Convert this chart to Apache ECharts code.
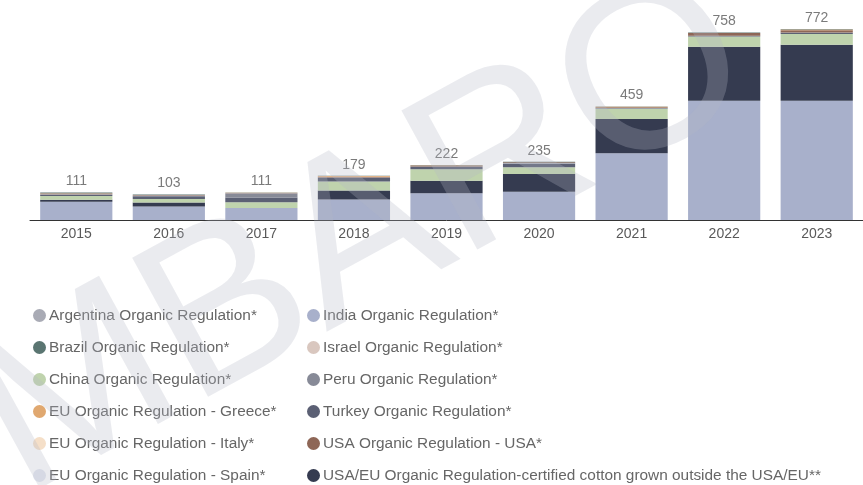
<!DOCTYPE html>
<html>
<head>
<meta charset="utf-8">
<script src="https://cdn.jsdelivr.net/npm/echarts@6/dist/echarts.min.js"></script>
<style>
  html, body { margin: 0; padding: 0; background: #fff; }
  #chart { width: 863px; height: 485px; }
</style>
</head>
<body>
<div id="chart"></div>
<script>
const years = ['2015', '2016', '2017', '2018', '2019', '2020', '2021', '2022', '2023']
const totals = [111, 103, 111, 179, 222, 235, 459, 758, 772]

// stacked bottom to top
const india = [74, 55, 48, 83, 108, 114, 270, 482, 482]
const usaEu = [8, 16, 0, 36, 51, 72, 138, 218, 226]
const china = [15, 14, 24, 37, 46, 27, 42, 41, 44]
const turkey = [4, 11, 19, 14, 9, 14, 2, 3, 4]
const peru = [2, 2, 16, 2, 2, 2, 1, 0, 2]
const argentina = [1, 1, 1, 0, 0, 1, 0, 0, 0]
const israel = [0, 0, 0, 0, 0, 0, 0, 0, 0]
const spain = [0, 0, 0, 0, 0, 0, 0, 0, 0]
const italy = [0, 0, 0, 0, 0, 0, 0, 0, 0]
const usa = [3, 2, 1, 3, 4, 3, 3, 12, 9]
const greece = [1, 0, 1, 3, 1, 0, 2, 0, 3]
const brazil = [3, 2, 1, 1, 1, 2, 1, 2, 2]

const leftNames = [
  'Argentina Organic Regulation*',
  'Brazil Organic Regulation*',
  'China Organic Regulation*',
  'EU Organic Regulation - Greece*',
  'EU Organic Regulation - Italy*',
  'EU Organic Regulation - Spain*'
]
const rightNames = [
  'India Organic Regulation*',
  'Israel Organic Regulation*',
  'Peru Organic Regulation*',
  'Turkey Organic Regulation*',
  'USA Organic Regulation - USA*',
  'USA/EU Organic Regulation-certified cotton grown outside the USA/EU**'
]

const stackSeries = [
  { name: rightNames[0], data: india, color: '#a8b0cb' },
  { name: rightNames[5], data: usaEu, color: '#353b50' },
  { name: leftNames[2], data: china, color: '#bfd3ad' },
  { name: rightNames[3], data: turkey, color: '#5b6074' },
  { name: rightNames[2], data: peru, color: '#878a97' },
  { name: leftNames[0], data: argentina, color: '#a9abb5' },
  { name: rightNames[1], data: israel, color: '#d9c7bf' },
  { name: leftNames[5], data: spain, color: '#e3e6f0' },
  { name: leftNames[4], data: italy, color: '#f5dfc8' },
  { name: rightNames[4], data: usa, color: '#8e6656' },
  { name: leftNames[3], data: greece, color: '#e0a870' },
  { name: leftNames[1], data: brazil, color: '#5a7571' }
]

const chart = echarts.init(document.getElementById('chart'))

const font = 'Liberation Sans, Arial, sans-serif'
const legendText = { color: '#666', fontSize: 15.4, fontFamily: font, padding: [0, 0, 0, -2] }
const legendBase = {
  orient: 'vertical', top: 308, height: 400, padding: 0,
  icon: 'circle', itemWidth: 13, itemHeight: 13, itemGap: 17,
  textStyle: legendText
}

const option = {
  animation: false,
  textStyle: { fontFamily: font },
  grid: { left: 30, right: -8, top: 22, bottom: 265 },
  legend: [
    Object.assign({ data: leftNames, left: 33 }, legendBase),
    Object.assign({ data: rightNames, left: 307 }, legendBase)
  ],
  xAxis: {
    type: 'category',
    data: years,
    axisTick: { show: false },
    axisLine: { lineStyle: { color: '#333', width: 1 } },
    axisLabel: { color: '#595959', fontSize: 14, margin: 7 }
  },
  yAxis: {
    type: 'value', min: 0, max: 800, show: false
  },
  series: stackSeries.map(s => ({
    type: 'bar',
    name: s.name,
    stack: 'total',
    data: s.data,
    barCategoryGap: '22%',
    itemStyle: { color: s.color }
  })).concat([{
    type: 'scatter',
    name: 'total',
    data: totals,
    symbolSize: 0,
    silent: true,
    label: { show: true, position: 'top', distance: 4, color: '#595959', fontSize: 14 }
  }]),
  graphic: [{
    type: 'text',
    silent: true,
    z: 100,
    x: 335,
    y: 255,
    rotation: 0.5,
    style: {
      text: 'IMBARO',
      fontSize: 230,
      fontFamily: font,
      fill: 'rgba(178,182,198,0.28)',
      align: 'center',
      verticalAlign: 'middle'
    }
  }]
}

chart.setOption(option)
</script>
</body>
</html>
